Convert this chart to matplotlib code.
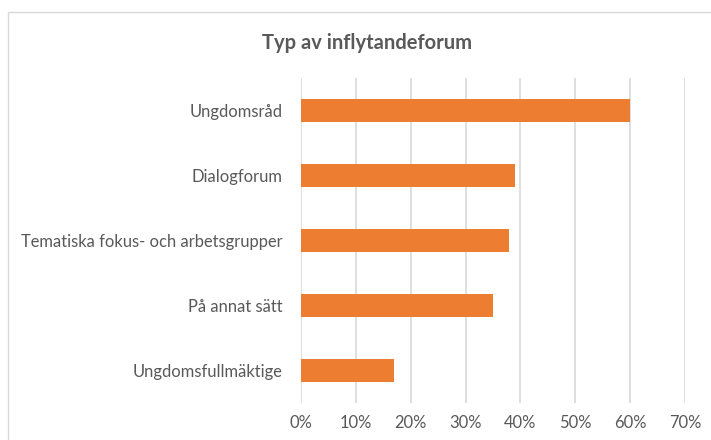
import matplotlib.pyplot as plt
from matplotlib.patches import Rectangle
from matplotlib.ticker import PercentFormatter

# ----- Data -----

categories = [
    "Ungdomsråd",
    "Dialogforum",
    "Tematiska fokus- och arbetsgrupper",
    "På annat sätt",
    "Ungdomsfullmäktige"
]
values = [60, 39, 38, 35, 17]

title = "Typ av inflytandeforum"
bar_color = "#ED7D31"
text_color = "#595959"

plt.rcParams["font.family"] = ["Lato", "DejaVu Sans"]

# ----- Figure -----

fig = plt.figure(figsize=(7.11, 4.4), dpi=100)
ax = fig.add_axes([0.4233, 0.0841, 0.5401, 0.7386])

# top category first
ax.barh(categories[::-1], values[::-1], height=0.36, color=bar_color)

ax.set_xlim(0, 70)
ax.set_ylim(-0.5, len(categories) - 0.5)
ax.set_xticks(range(0, 71, 10))
ax.xaxis.set_major_formatter(PercentFormatter(decimals=0))

ax.grid(axis="x", color="#D9D9D9", linewidth=1.2)
ax.set_axisbelow(True)
for side in ["top", "right", "bottom", "left"]:
    ax.spines[side].set_visible(False)

ax.tick_params(axis="both", length=0, labelsize=11.9, colors=text_color)
ax.tick_params(axis="x", pad=9)
ax.tick_params(axis="y", pad=13)

fig.text(367 / 711, 1 - 43 / 440, title, ha="center", va="center",
         fontsize=14.5, fontweight="bold", color=text_color)

# chart border (right and bottom edges fall outside the image)
fig.add_artist(Rectangle((8 / 711, -0.1), 1.2, 0.1 + 1 - 12 / 440,
                         transform=fig.transFigure, fill=False,
                         edgecolor="#D9D9D9", linewidth=1))

fig.savefig("out.png", dpi=100)
